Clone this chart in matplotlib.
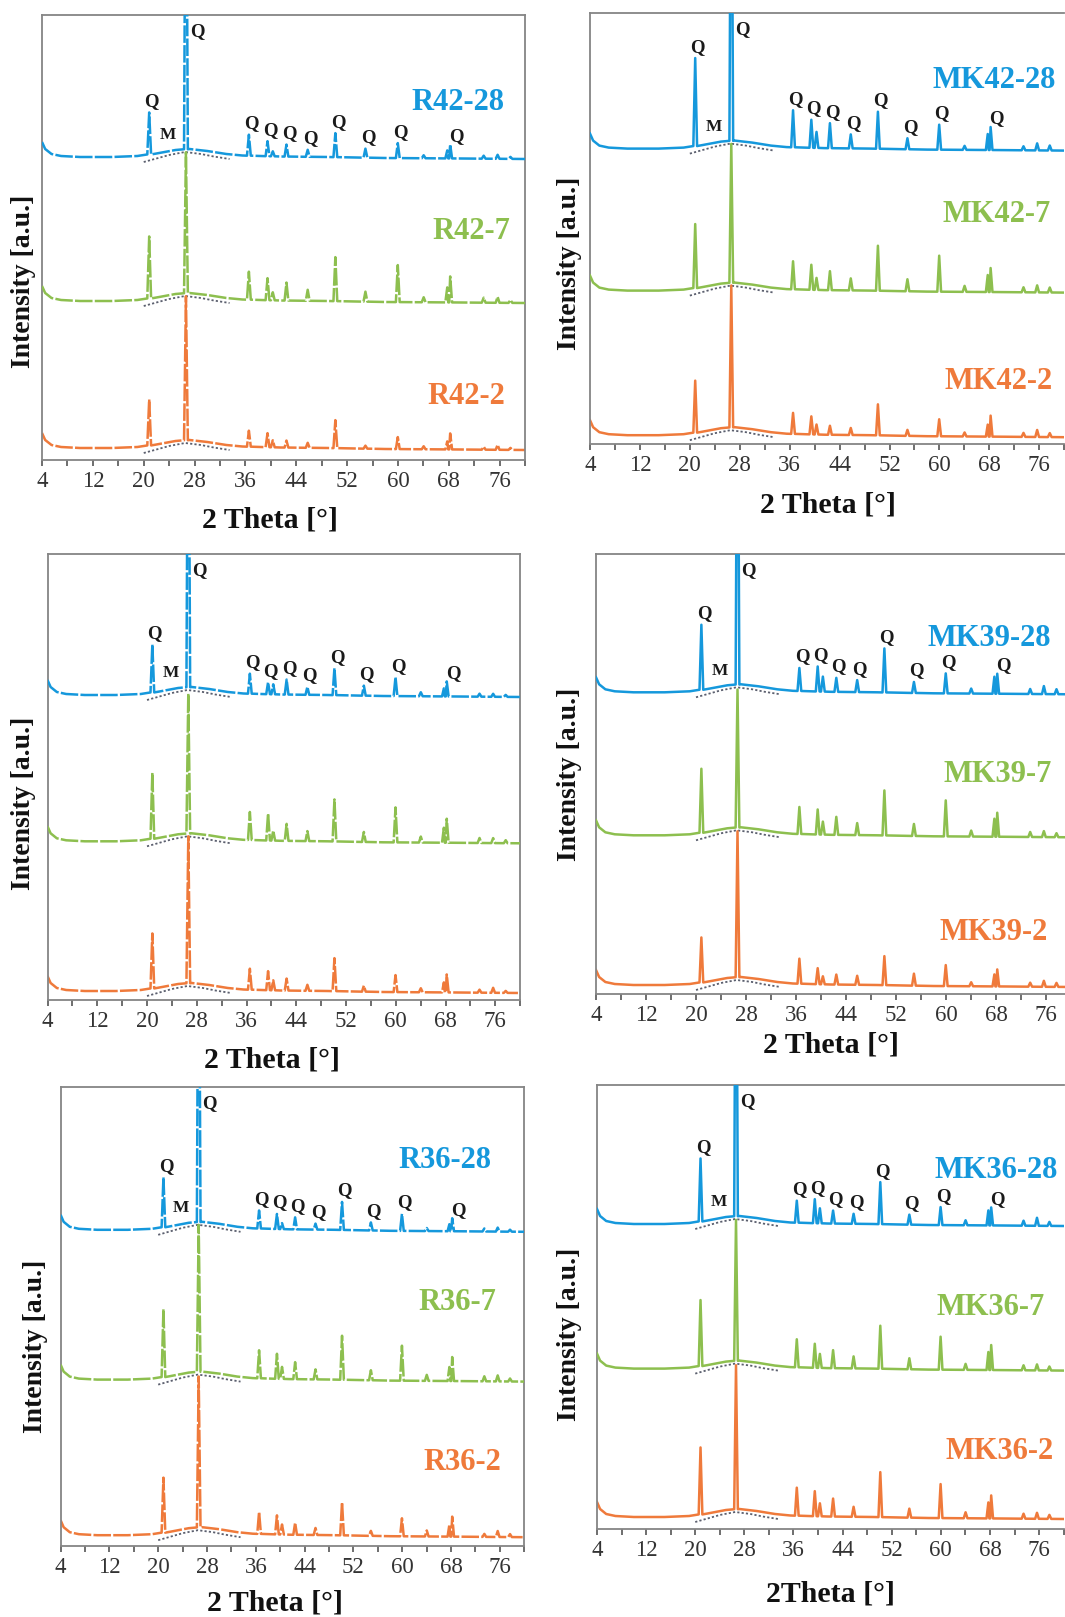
import numpy as np
import matplotlib
matplotlib.use("Agg")
import matplotlib.pyplot as plt

plt.rcParams['font.family'] = ['Liberation Serif', 'DejaVu Serif']

# ---------------- data ----------------
# quartz reflection positions (2 theta, deg)
PEAK_POS = [20.86, 26.64, 36.54, 39.47, 40.30, 42.45, 45.79, 50.14, 54.87,
            59.96, 64.03, 67.74, 68.20, 73.47, 75.66, 77.68]
# background shape (relative to trace baseline)
BG_X = [4.0, 4.5, 5.5, 7.0, 10.0, 15.0, 19.0, 22.0, 25.0, 27.2, 30.0, 33.0,
        35.5, 41.5, 49.0, 58.0, 70.0, 80.0]
BG_REL = [15, 8, 3, 1, 0, 0, 1, 3.5, 7, 8, 6, 3, 1.5, 0.5, 0, -1, -1.5, -2]
# amorphous hump (dotted guide) relative to baseline
HUMP_X = [20.0, 22.0, 24.0, 26.5, 29.0, 31.0, 33.5]
HUMP_REL = [-5, -1.5, 2, 5, 3, 0.5, -2]

# peak heights above background, one list per pattern (same order as PEAK_POS)
R42_28 = [42, 400, 21, 15, 5, 12, 7, 24, 9, 15, 3, 8, 14, 3, 4, 2]
R42_7 = [62, 141, 28, 22, 8, 18, 11, 44, 10, 37, 5, 15, 26, 5, 6, 3]
R42_2 = [46, 144, 16, 14, 7, 7, 5, 28, 3, 12, 3, 8, 16, 3, 5, 2]
MK42_28 = [88, 400, 37, 28, 16, 25, 14, 37, 11, 25, 4, 16, 23, 4, 7, 5]
MK42_7 = [64, 139, 28, 25, 12, 19, 12, 45, 12, 36, 6, 17, 24, 5, 7, 5]
MK42_2 = [52, 142, 21, 18, 10, 9, 7, 31, 6, 17, 4, 12, 21, 4, 7, 4]
R39_28 = [48, 400, 20, 12, 10, 15, 8, 27, 10, 19, 4, 8, 15, 3, 3, 2]
R39_7 = [66, 140, 28, 27, 10, 17, 10, 42, 10, 35, 6, 15, 24, 5, 5, 3]
R39_2 = [55, 147, 21, 19, 10, 12, 6, 33, 6, 17, 4, 10, 18, 3, 5, 2]
MK39_28 = [65, 400, 23, 25, 15, 14, 12, 44, 11, 20, 5, 17, 20, 5, 8, 5]
MK39_7 = [64, 138, 27, 25, 13, 18, 12, 45, 12, 36, 6, 18, 24, 5, 6, 4]
MK39_2 = [45, 146, 25, 16, 8, 10, 9, 29, 12, 21, 4, 12, 17, 4, 6, 4]
R36_28 = [50, 400, 18, 15, 6, 12, 6, 28, 8, 17, 3, 7, 13, 3, 4, 2]
R36_7 = [68, 147, 28, 25, 12, 17, 10, 44, 10, 35, 6, 14, 24, 5, 6, 3]
R36_2 = [55, 151, 22, 19, 10, 12, 7, 33, 5, 18, 6, 12, 20, 3, 6, 3]
MK36_28 = [63, 400, 22, 24, 15, 13, 10, 42, 10, 18, 5, 15, 18, 5, 8, 4]
MK36_7 = [66, 141, 28, 24, 14, 18, 12, 43, 11, 33, 6, 18, 25, 5, 6, 4]
MK36_2 = [67, 144, 28, 25, 13, 18, 10, 45, 9, 34, 6, 16, 23, 5, 6, 4]

# baselines of the three stacked patterns (top, middle, bottom)
BASE_TL = [303, 159, 12]
BASE_TR = [295, 153, 8.4]
BASE_ML = [305, 158.7, 9]
BASE_MR = [301.7, 158.7, 9]
BASE_BL = [315.8, 166, 10.4]
BASE_BR = [304.6, 160, 11.6]

NAMES_TL = ["R42-28", "R42-7", "R42-2"]
NAMES_TR = ["MK42-28", "MK42-7", "MK42-2"]
NAMES_ML = [None, None, None]
NAMES_MR = ["MK39-28", "MK39-7", "MK39-2"]
NAMES_BL = ["R36-28", "R36-7", "R36-2"]
NAMES_BR = ["MK36-28", "MK36-7", "MK36-2"]

# peaks that carry a "Q" label on the top pattern
Q_LABELED = [20.86, 26.64, 36.54, 39.47, 42.45, 45.79, 50.14, 54.87, 59.96, 68.20]

XTICKS = [4, 12, 20, 28, 36, 44, 52, 60, 68, 76]

# ---------------- style / layout ----------------
W, H = 1065, 1617
COLORS = ['#1598dc', '#8dbf4f', '#ef7a3b']
SPINE = '#858585'

panels = [
    dict(px=(42, 6.40, 14.5, 460.0), xmax=79.5, dashed=True, right=True,
         data=[R42_28, R42_7, R42_2], base=BASE_TL, names=NAMES_TL,
         npos=[(76.8, 358), (77.6, 229), (76.8, 64)],
         xl=(270, 520, "2 Theta [°]"), yl=(24, 281)),
    dict(px=(590, 6.24, 13.0, 443.6), xmax=80, dashed=False, right=False,
         data=[MK42_28, MK42_7, MK42_2], base=BASE_TR, names=NAMES_TR,
         npos=[(78.6, 363), (77.8, 229), (78.1, 62)],
         xl=(828, 505, "2 Theta [°]"), yl=(570, 263)),
    dict(px=(47.5, 6.26, 554.0, 1000.0), xmax=79.5, dashed=True, right=True,
         data=[R39_28, R39_7, R39_2], base=BASE_ML, names=NAMES_ML,
         npos=[None, None, None],
         xl=(272, 1060, "2 Theta [°]"), yl=(24, 803)),
    dict(px=(596, 6.25, 554.0, 994.0), xmax=80, dashed=False, right=False,
         data=[MK39_28, MK39_7, MK39_2], base=BASE_MR, names=NAMES_MR,
         npos=[(76.8, 355), (77.0, 220), (76.2, 62)],
         xl=(831, 1045, "2 Theta [°]"), yl=(570, 774)),
    dict(px=(60.6, 6.14, 1087.0, 1545.6), xmax=79.5, dashed=True, right=True,
         data=[R36_28, R36_7, R36_2], base=BASE_BL, names=NAMES_BL,
         npos=[(74.6, 385), (75.4, 243), (76.3, 83)],
         xl=(275, 1603, "2 Theta [°]"), yl=(36, 1346)),
    dict(px=(597, 6.14, 1085.0, 1528.6), xmax=80, dashed=False, right=False,
         data=[MK36_28, MK36_7, MK36_2], base=BASE_BR, names=NAMES_BR,
         npos=[(79.0, 358), (77.0, 221), (78.4, 77)],
         xl=(831, 1594, "2Theta [°]"), yl=(570, 1334)),
]


def build_trace(base, heights, half=0.3):
    pts = [(x, base + r) for x, r in zip(BG_X, BG_REL)]
    for p, h in zip(PEAK_POS, heights):
        b = base + np.interp(p, BG_X, BG_REL)
        pts += [(p - half, b), (p, b + h), (p + half, b)]
    pts.sort(key=lambda t: t[0])
    xs = np.array([t[0] for t in pts])
    ys = np.array([t[1] for t in pts])
    return xs, ys


fig = plt.figure(figsize=(W / 100, H / 100), dpi=100)

for P in panels:
    left, sc, top, bot = P['px']
    width = (P['xmax'] - 4) * sc
    ax = fig.add_axes([left / W, 1 - bot / H, width / W, (bot - top) / H])
    ax.set_xlim(4, P['xmax'])
    ax.set_ylim(0, bot - top)
    ymax = bot - top

    # amorphous hump guides
    for b in P['base']:
        ax.plot(HUMP_X, [b + r for r in HUMP_REL], color='#5b5f6e', lw=1.3,
                ls=(0, (1.2, 1.2)), zorder=1)

    ls = (0, (7, 0.9)) if P['dashed'] else '-'
    for i in [2, 1, 0]:
        xs, ys = build_trace(P['base'][i], P['data'][i])
        ax.plot(xs, ys, color=COLORS[i], lw=1.8, ls=ls, zorder=2 + (2 - i),
                solid_joinstyle='round')

    # Q / M labels on top pattern
    b0 = P['base'][0]
    top_h = P['data'][0]
    for p in Q_LABELED:
        k = PEAK_POS.index(p)
        apex = b0 + np.interp(p, BG_X, BG_REL) + top_h[k]
        if p == 26.64:
            tx, ty = p + 1.8, ymax - 17
        elif p == 68.20:
            tx, ty = p + 1.0, apex + 8
        else:
            tx, ty = p + 0.4, apex + 11
        ax.text(tx, ty, "Q", fontsize=13.5, fontweight='bold', ha='center',
                va='center', color='#1a1a1a', zorder=6)
    ax.text(23.8, b0 + np.interp(23.8, BG_X, BG_REL) + 16, "M", fontsize=12.5,
            fontweight='bold', ha='center', va='center', color='#1a1a1a', zorder=6)

    # sample names
    for i in range(3):
        if P['names'][i] is None:
            continue
        x, y = P['npos'][i]
        ax.text(x, y, P['names'][i], fontsize=22, fontweight='bold',
                color=COLORS[i], ha='right', va='center', zorder=6)

    # axes styling
    for s in ax.spines.values():
        s.set_color(SPINE)
        s.set_linewidth(1.3)
    ax.spines['right'].set_visible(P['right'])
    ax.set_yticks([])
    ax.set_xticks(XTICKS)
    ax.set_xticklabels([str(t) for t in XTICKS])
    ax.set_xticks([8, 16, 24, 32, 40, 48, 56, 64, 72, 80], minor=True)
    ax.tick_params(axis='x', which='both', direction='out', length=4, width=1.2,
                   color='#555555', labelsize=16.5, labelcolor='#333333', pad=4)

    xl = P['xl']
    fig.text(xl[0] / W, 1 - xl[1] / H, xl[2], fontsize=21.5, fontweight='bold',
             ha='center', va='center', color='#111111')
    yl = P['yl']
    fig.text(yl[0] / W, 1 - yl[1] / H, "Intensity [a.u.]", fontsize=20,
             fontweight='bold', rotation=90, ha='center', va='center', color='#111111')

fig.savefig("out.png", dpi=100)
